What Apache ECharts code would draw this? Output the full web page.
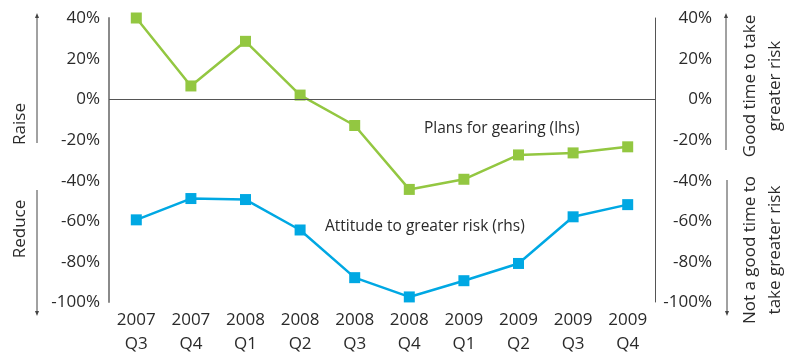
<!DOCTYPE html>
<html>
<head>
<meta charset="utf-8">
<script src="https://cdn.jsdelivr.net/npm/echarts@6/dist/echarts.min.js"></script>
<style>
  html, body { margin: 0; padding: 0; background: #fff; }
  #chart { width: 792px; height: 356px; }
</style>
</head>
<body>
<div id="chart"></div>
<script>
// Quarterly survey balances, in percent
const quarters = ['2007\nQ3', '2007\nQ4', '2008\nQ1', '2008\nQ2', '2008\nQ3', '2008\nQ4', '2009\nQ1', '2009\nQ2', '2009\nQ3', '2009\nQ4'];
const gearingPlans = [40, 6.5, 28.5, 2, -13, -44.5, -39.5, -27.5, -26.5, -23.5];   // lhs
const riskAttitude = [-59.5, -49, -49.5, -64.5, -88, -97.5, -89.5, -81, -58, -52]; // rhs
const axisTicks = [40, 20, 0, -20, -40, -60, -80, -100];

const FONT = '"Open Sans", "Noto Sans", sans-serif';
const GREEN = '#93c741';
const BLUE = '#00a8e3';
const TEXT = '#2a2a2a';

const chart = echarts.init(document.getElementById('chart'));

const yAxisBase = (pos, lineColor, lineWidth, margin) => ({
  type: 'value',
  position: pos,
  min: axisTicks[axisTicks.length - 1],
  max: axisTicks[0],
  interval: 20,
  axisLine: { show: true, lineStyle: { color: lineColor, width: lineWidth } },
  axisTick: { show: false },
  splitLine: { show: false },
  axisLabel: {
    formatter: v => v + '%',
    color: TEXT,
    fontSize: 17,
    fontFamily: FONT,
    margin: margin,
    align: 'right',
    verticalAlign: 'top',
    padding: [-8, 0, 0, 0]
  }
});

const arrowLine = (x, y1, y2) => ({
  type: 'line',
  shape: { x1: x, y1: y1, x2: x, y2: y2 },
  style: { stroke: '#444', lineWidth: 1 }
});
const arrowHead = (x, y, up) => ({
  type: 'polygon',
  shape: { points: up ? [[x - 2, y + 5], [x + 2, y + 5], [x, y]] : [[x - 2, y - 5], [x + 2, y - 5], [x, y]] },
  style: { fill: '#444' }
});
const sideText = (x, y, text) => ({
  type: 'text',
  x: x, y: y,
  rotation: Math.PI / 2,
  style: {
    text: text,
    fill: TEXT,
    font: '17px ' + FONT,
    align: 'center',
    verticalAlign: 'middle',
    lineHeight: 25
  }
});

chart.setOption({
  animation: false,
  grid: { left: 109, right: 137, top: 18, bottom: 45 },
  xAxis: {
    type: 'category',
    data: quarters,
    boundaryGap: true,
    axisLine: { show: false },
    axisTick: { show: false },
    axisLabel: { color: TEXT, fontSize: 17, fontFamily: FONT, lineHeight: 24, margin: 6 }
  },
  yAxis: [
    yAxisBase('left', '#8a8a8a', 2, 9),
    yAxisBase('right', '#555', 1, 57)
  ],
  series: [
    {
      name: 'Plans for gearing (lhs)',
      type: 'line',
      yAxisIndex: 0,
      data: gearingPlans,
      symbol: 'rect',
      symbolSize: 11,
      itemStyle: { color: GREEN },
      lineStyle: { color: GREEN, width: 2.5 },
      markLine: {
        silent: true,
        symbol: 'none',
        label: { show: false },
        lineStyle: { color: '#555', width: 1, type: 'solid' },
        data: [{ yAxis: 0 }]
      },
      z: 3
    },
    {
      name: 'Attitude to greater risk (rhs)',
      type: 'line',
      yAxisIndex: 1,
      data: riskAttitude,
      symbol: 'rect',
      symbolSize: 11,
      itemStyle: { color: BLUE },
      lineStyle: { color: BLUE, width: 2.5 },
      z: 3
    }
  ],
  graphic: [
    { type: 'text', x: 424, y: 121, style: { text: 'Plans for gearing (lhs)', fill: TEXT, font: '15.5px ' + FONT } },
    { type: 'text', x: 325, y: 219, style: { text: 'Attitude to greater risk (rhs)', fill: TEXT, font: '15.5px ' + FONT } },
    // left side: Raise / Reduce
    arrowLine(37, 16, 143), arrowHead(37, 13, true),
    arrowLine(37, 190, 312), arrowHead(37, 316, false),
    sideText(20, 124, 'Raise'),
    sideText(20, 229, 'Reduce'),
    // right side
    arrowLine(726, 16, 150), arrowHead(726, 13, true),
    arrowLine(727, 180, 312), arrowHead(727, 316, false),
    sideText(763, 86, 'Good time to take\ngreater risk'),
    sideText(763, 250, 'Not a good time to\ntake greater risk')
  ]
});
</script>
</body>
</html>
